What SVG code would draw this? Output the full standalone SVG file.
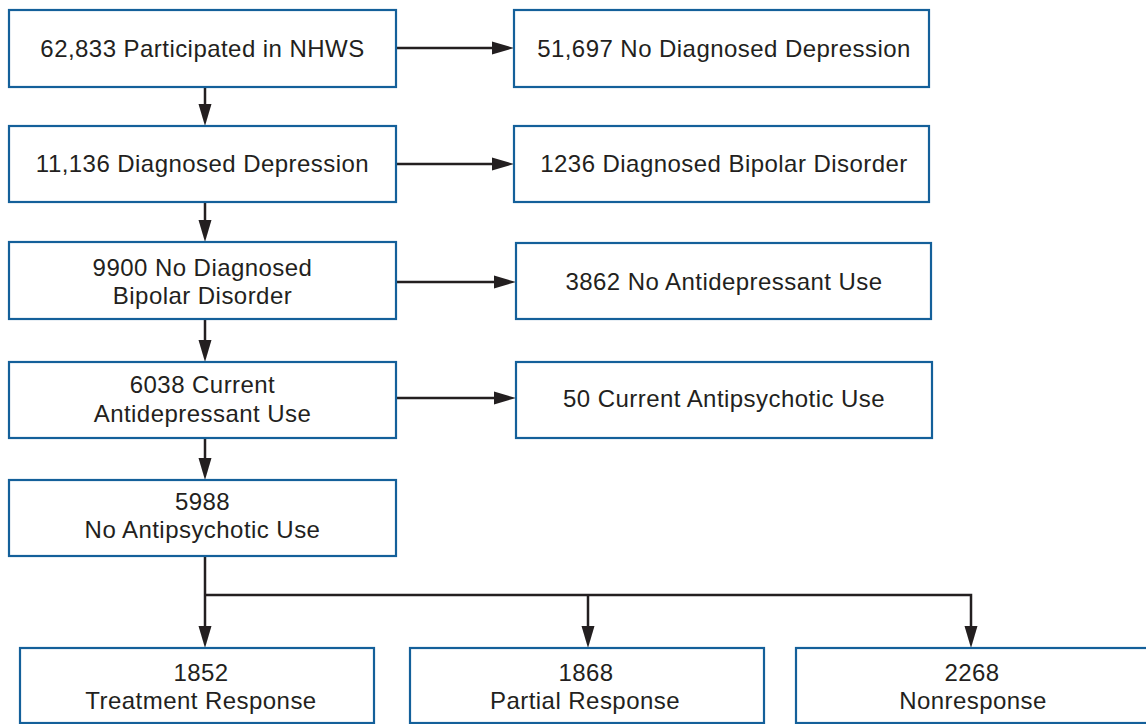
<svg xmlns="http://www.w3.org/2000/svg" width="1146" height="724" viewBox="0 0 1146 724">
<defs>
<style>
.box{fill:#ffffff;stroke:#14609a;stroke-width:2.2}
.t{font-family:"Liberation Sans",Arial,sans-serif;font-size:24px;letter-spacing:0.45px;fill:#231f20;text-anchor:middle}
.c{fill:none;stroke:#231f20;stroke-width:2.5}
</style>
<marker id="ah" markerUnits="userSpaceOnUse" markerWidth="22" markerHeight="14" viewBox="0 0 22 14" refX="14" refY="7" orient="auto">
<path d="M0,0.5 L22,7 L0,13.5 Z" fill="#231f20"/>
</marker>
</defs>
<rect width="1146" height="724" fill="#ffffff"/>
<g id="connectors">
<line class="c" x1="396" y1="48" x2="506" y2="48" marker-end="url(#ah)"/>
<line class="c" x1="396" y1="164" x2="506" y2="164" marker-end="url(#ah)"/>
<line class="c" x1="396" y1="282" x2="508" y2="282" marker-end="url(#ah)"/>
<line class="c" x1="396" y1="398" x2="508" y2="398" marker-end="url(#ah)"/>
<line class="c" x1="205" y1="87" x2="205" y2="118" marker-end="url(#ah)"/>
<line class="c" x1="205" y1="202" x2="205" y2="234" marker-end="url(#ah)"/>
<line class="c" x1="205" y1="319" x2="205" y2="354" marker-end="url(#ah)"/>
<line class="c" x1="205" y1="438" x2="205" y2="472" marker-end="url(#ah)"/>
<line class="c" x1="205" y1="556" x2="205" y2="640" marker-end="url(#ah)"/>
<path class="c" d="M205,595 H971 V640" marker-end="url(#ah)"/>
<path class="c" d="M588,595 V640" marker-end="url(#ah)"/>
</g>
<g id="n1"><rect class="box" x="9" y="10" width="387" height="77"/><text class="t" x="202.5" y="57">62,833 Participated in NHWS</text></g>
<g id="n2"><rect class="box" x="9" y="126" width="387" height="76"/><text class="t" x="202.5" y="172">11,136 Diagnosed Depression</text></g>
<g id="n3"><rect class="box" x="9" y="242" width="387" height="77"/><text class="t" x="202.5" y="276">9900 No Diagnosed</text><text class="t" x="202.5" y="304">Bipolar Disorder</text></g>
<g id="n4"><rect class="box" x="9" y="362" width="387" height="76"/><text class="t" x="202.5" y="393">6038 Current</text><text class="t" x="202.5" y="422">Antidepressant Use</text></g>
<g id="n5"><rect class="box" x="9" y="480" width="387" height="76"/><text class="t" x="202.5" y="510">5988</text><text class="t" x="202.5" y="538">No Antipsychotic Use</text></g>
<g id="r1"><rect class="box" x="514" y="10" width="415" height="77"/><text class="t" x="724" y="57">51,697 No Diagnosed Depression</text></g>
<g id="r2"><rect class="box" x="514" y="126" width="415" height="76"/><text class="t" x="724" y="172">1236 Diagnosed Bipolar Disorder</text></g>
<g id="r3"><rect class="box" x="516" y="243" width="415" height="76"/><text class="t" x="724" y="290">3862 No Antidepressant Use</text></g>
<g id="r4"><rect class="box" x="516" y="362" width="416" height="76"/><text class="t" x="724" y="407">50 Current Antipsychotic Use</text></g>
<g id="b1"><rect class="box" x="20" y="648" width="354" height="75"/><text class="t" x="201" y="681">1852</text><text class="t" x="201" y="709">Treatment Response</text></g>
<g id="b2"><rect class="box" x="410" y="648" width="354" height="75"/><text class="t" x="586" y="681">1868</text><text class="t" x="585" y="709">Partial Response</text></g>
<g id="b3"><rect class="box" x="796" y="648" width="354" height="75"/><text class="t" x="972" y="681">2268</text><text class="t" x="973" y="709">Nonresponse</text></g>
</svg>
